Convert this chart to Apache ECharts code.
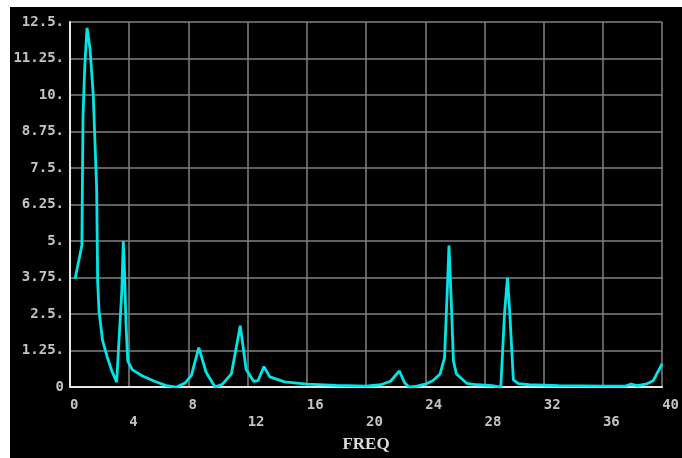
<!DOCTYPE html>
<html>
<head>
<meta charset="utf-8">
<script src="https://cdn.jsdelivr.net/npm/echarts@6/dist/echarts.min.js"></script>
<style>
  html, body { margin: 0; padding: 0; background: #fff; }
  #chart { width: 682px; height: 458px; }
</style>
</head>
<body>
<div id="chart"></div>
<script>
// frequency response
var freq = [0.34, 0.8, 0.88, 1.0, 1.15, 1.35, 1.57, 1.8, 1.87, 1.96, 2.2, 2.5, 2.83, 3.15,
  3.5, 3.6, 3.68, 3.78, 3.9, 4.2, 4.9, 5.7, 6.5, 7.2, 7.8, 8.2, 8.7, 9.2, 9.8,
  10.3, 10.9, 11.5, 11.9, 12.4, 12.7, 13.1, 13.5, 14.5, 16, 18, 20,
  21.0, 21.65, 22.25, 22.6, 22.9, 23.3, 24.0, 24.5, 25.0, 25.3, 25.5, 25.6, 25.75, 25.9, 26.1, 26.8,
  27.5, 28.5, 29.1, 29.35, 29.55, 29.7, 29.95, 30.3, 31, 33, 36, 37.5, 37.9, 38.3, 38.9, 39.4, 40.0];
var amp = [3.7, 4.85, 9.3, 11.0, 12.3, 11.6, 10.0, 6.8, 3.6, 2.6, 1.6, 1.05, 0.55, 0.17,
  3.3, 5.0, 4.0, 2.2, 0.9, 0.6, 0.38, 0.2, 0.05, 0.0, 0.15, 0.4, 1.35, 0.5, 0.0,
  0.1, 0.45, 2.1, 0.6, 0.2, 0.22, 0.7, 0.35, 0.18, 0.1, 0.06, 0.03,
  0.08, 0.2, 0.55, 0.15, 0.0, 0.02, 0.1, 0.22, 0.45, 1.0, 3.5, 4.85, 3.0, 0.9, 0.45, 0.13,
  0.08, 0.05, 0.0, 2.5, 3.74, 2.6, 0.25, 0.12, 0.08, 0.05, 0.03, 0.03, 0.1, 0.05, 0.1, 0.22, 0.8];

var xTicks = [0, 4, 8, 12, 16, 20, 24, 28, 32, 36, 40];
var yTicks = [0, 1.25, 2.5, 3.75, 5, 6.25, 7.5, 8.75, 10, 11.25, 12.5];

var points = freq.map(function (f, i) { return [f, amp[i]]; });

var myChart = echarts.init(document.getElementById('chart'));

var option = {
    backgroundColor: '#ffffff',
    animation: false,
    // black panel behind the plot
    graphic: [{
        type: 'rect',
        z: -100,
        shape: { x: 10, y: 7, width: 672, height: 451 },
        style: { fill: '#000000' }
    }],
    grid: { left: 70, right: 19, top: 22, bottom: 65 },
    xAxis: {
        type: 'value',
        min: xTicks[0],
        max: xTicks[xTicks.length - 1],
        interval: 4,
        name: 'FREQ',
        nameLocation: 'middle',
        nameGap: 46,
        nameTextStyle: {
            fontFamily: 'Liberation Serif',
            fontWeight: 'bold',
            fontSize: 17,
            color: '#dcdcdc'
        },
        axisLine: { lineStyle: { color: '#e6e6e6', width: 2 } },
        axisTick: { show: false },
        splitLine: { lineStyle: { color: '#828282', width: 1.5 } },
        axisLabel: {
            margin: 10,
            align: 'left',
            lineHeight: 17,
            fontFamily: 'DejaVu Sans Mono',
            fontWeight: 'bold',
            fontSize: 14,
            color: '#c4c4c4',
            // labels alternate between two rows
            formatter: function (v) {
                return (v / 4) % 2 ? '\n' + v : String(v);
            }
        }
    },
    yAxis: {
        type: 'value',
        min: yTicks[0],
        max: yTicks[yTicks.length - 1],
        interval: 1.25,
        axisLine: { show: true, lineStyle: { color: '#e6e6e6', width: 2 } },
        axisTick: { show: false },
        splitLine: { lineStyle: { color: '#828282', width: 1.5 } },
        axisLabel: {
            margin: 6,
            fontFamily: 'DejaVu Sans Mono',
            fontWeight: 'bold',
            fontSize: 14,
            color: '#c4c4c4',
            formatter: function (v) { return v === 0 ? '0' : v + '.'; }
        }
    },
    series: [{
        type: 'line',
        data: points,
        symbol: 'none',
        lineStyle: { color: '#00e6e6', width: 2.8 },
        z: 5
    }]
};

myChart.setOption(option);
</script>
</body>
</html>
